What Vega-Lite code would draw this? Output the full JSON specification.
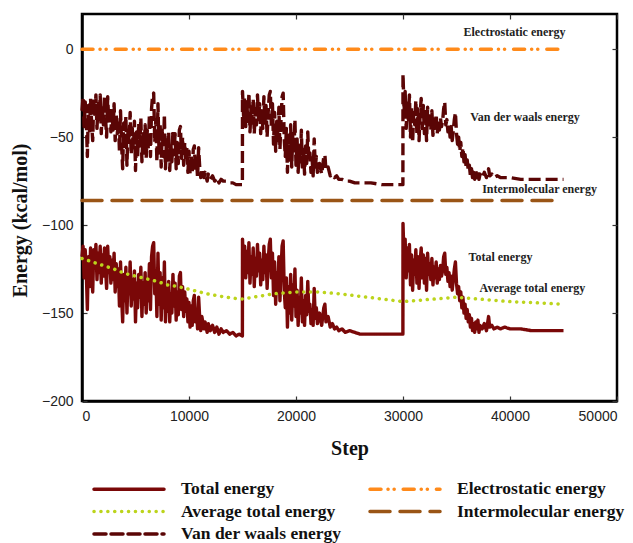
{
"$schema":"https://vega.github.io/schema/vega-lite/v6.json",
"width":535,"height":387,
"autosize":{"type":"none"},
"padding":{"left":82,"top":14,"right":16,"bottom":142},
"background":"white",
"config":{
 "view":{"stroke":"black","strokeWidth":2.5},
 "axis":{"domainColor":"black","domainWidth":2.5,"tickColor":"#333","tickSize":-5,"tickWidth":1.2,"grid":false,
  "labelFont":"Liberation Sans","labelFontSize":14,"labelColor":"#222",
  "titleFont":"Liberation Serif","titleFontWeight":"bold","titleColor":"#111"}
},
"datasets":{
"tv":[
{"s":0,"t":-118,"v":-35},{"s":100,"t":-112,"v":-27},{"s":200,"t":-130,"v":-44},{"s":300,"t":-114,"v":-30},{"s":400,"t":-126,"v":-40},{"s":500,"t":-148,"v":-61},{"s":600,"t":-118,"v":-32},{"s":700,"t":-135,"v":-48},{"s":800,"t":-113,"v":-28},{"s":900,"t":-128,"v":-42},
{"s":1000,"t":-138,"v":-52},{"s":1100,"t":-114,"v":-28},{"s":1200,"t":-124,"v":-38},{"s":1300,"t":-111,"v":-26},{"s":1400,"t":-131,"v":-45},{"s":1500,"t":-116,"v":-31},{"s":1600,"t":-127,"v":-40},{"s":1700,"t":-112,"v":-26},{"s":1800,"t":-133,"v":-48},{"s":1900,"t":-117,"v":-32},
{"s":2000,"t":-129,"v":-43},{"s":2100,"t":-113,"v":-27},{"s":2200,"t":-124,"v":-39},{"s":2300,"t":-136,"v":-50},{"s":2400,"t":-112,"v":-27},{"s":2500,"t":-127,"v":-41},{"s":2600,"t":-118,"v":-33},{"s":2700,"t":-133,"v":-47},{"s":2800,"t":-120,"v":-35},{"s":2900,"t":-131,"v":-46},
{"s":3000,"t":-116,"v":-31},{"s":3100,"t":-138,"v":-52},{"s":3200,"t":-122,"v":-37},{"s":3300,"t":-135,"v":-48},{"s":3400,"t":-125,"v":-40},{"s":3500,"t":-146,"v":-58},{"s":3600,"t":-121,"v":-35},{"s":3700,"t":-140,"v":-54},{"s":3800,"t":-155,"v":-68},{"s":3900,"t":-128,"v":-42},
{"s":4000,"t":-143,"v":-57},{"s":4100,"t":-124,"v":-38},{"s":4200,"t":-150,"v":-66},{"s":4300,"t":-130,"v":-45},{"s":4400,"t":-139,"v":-53},{"s":4500,"t":-121,"v":-36},{"s":4600,"t":-146,"v":-60},{"s":4700,"t":-131,"v":-45},{"s":4800,"t":-142,"v":-57},{"s":4900,"t":-126,"v":-41},
{"s":5000,"t":-155,"v":-69},{"s":5100,"t":-133,"v":-47},{"s":5200,"t":-147,"v":-61},{"s":5300,"t":-128,"v":-42},{"s":5400,"t":-141,"v":-55},{"s":5500,"t":-124,"v":-39},{"s":5600,"t":-152,"v":-64},{"s":5700,"t":-133,"v":-48},{"s":5800,"t":-145,"v":-59},{"s":5900,"t":-127,"v":-43},
{"s":6000,"t":-150,"v":-62},{"s":6100,"t":-131,"v":-46},{"s":6200,"t":-143,"v":-57},{"s":6300,"t":-122,"v":-37},{"s":6400,"t":-148,"v":-61},{"s":6500,"t":-118,"v":-34},{"s":6600,"t":-112,"v":-26},{"s":6700,"t":-110,"v":-25},{"s":6800,"t":-139,"v":-53},{"s":6900,"t":-126,"v":-40},
{"s":7000,"t":-152,"v":-64},{"s":7100,"t":-116,"v":-31},{"s":7200,"t":-145,"v":-59},{"s":7300,"t":-127,"v":-42},{"s":7400,"t":-154,"v":-67},{"s":7500,"t":-130,"v":-45},{"s":7600,"t":-147,"v":-61},{"s":7700,"t":-121,"v":-37},{"s":7800,"t":-155,"v":-68},{"s":7900,"t":-136,"v":-50},
{"s":8000,"t":-149,"v":-63},{"s":8100,"t":-132,"v":-47},{"s":8200,"t":-155,"v":-69},{"s":8300,"t":-139,"v":-53},{"s":8400,"t":-150,"v":-64},{"s":8500,"t":-128,"v":-46},{"s":8600,"t":-146,"v":-60},{"s":8700,"t":-133,"v":-48},{"s":8800,"t":-154,"v":-68},{"s":8900,"t":-138,"v":-53},
{"s":9000,"t":-151,"v":-65},{"s":9100,"t":-129,"v":-46},{"s":9200,"t":-127,"v":-44},{"s":9300,"t":-148,"v":-62},{"s":9400,"t":-135,"v":-50},{"s":9500,"t":-152,"v":-66},{"s":9600,"t":-138,"v":-53},{"s":9700,"t":-149,"v":-64},{"s":9800,"t":-142,"v":-56},{"s":9900,"t":-155,"v":-70},
{"s":10000,"t":-144,"v":-58},{"s":10100,"t":-158,"v":-71},{"s":10200,"t":-146,"v":-60},{"s":10300,"t":-157,"v":-70},{"s":10400,"t":-143,"v":-57},{"s":10500,"t":-140,"v":-55},{"s":10600,"t":-155,"v":-69},{"s":10700,"t":-148,"v":-62},{"s":10800,"t":-159,"v":-73},{"s":10900,"t":-141,"v":-56},
{"s":11000,"t":-153,"v":-67},{"s":11100,"t":-160,"v":-73},{"s":11200,"t":-152,"v":-68},{"s":11400,"t":-159,"v":-73},{"s":11500,"t":-155,"v":-70},{"s":11700,"t":-161,"v":-75},{"s":11800,"t":-156,"v":-71},{"s":12000,"t":-160,"v":-74},{"s":12200,"t":-157,"v":-72},{"s":12400,"t":-161,"v":-75},
{"s":12600,"t":-158,"v":-73},{"s":12800,"t":-162,"v":-76},{"s":13000,"t":-159,"v":-74},{"s":13200,"t":-161,"v":-75},{"s":13500,"t":-160,"v":-75},{"s":13800,"t":-162,"v":-76},{"s":14100,"t":-161,"v":-76},{"s":14400,"t":-163,"v":-77},{"s":14700,"t":-162,"v":-77},{"s":14990,"t":-163,"v":-77},
{"s":15000,"t":-108,"v":-24},{"s":15100,"t":-125,"v":-38},{"s":15200,"t":-112,"v":-27},{"s":15300,"t":-130,"v":-44},{"s":15400,"t":-115,"v":-30},{"s":15500,"t":-127,"v":-41},{"s":15600,"t":-110,"v":-25},{"s":15700,"t":-133,"v":-47},{"s":15800,"t":-118,"v":-33},{"s":15900,"t":-128,"v":-42},
{"s":16000,"t":-113,"v":-28},{"s":16100,"t":-135,"v":-48},{"s":16200,"t":-119,"v":-34},{"s":16300,"t":-129,"v":-43},{"s":16400,"t":-111,"v":-26},{"s":16500,"t":-126,"v":-40},{"s":16600,"t":-116,"v":-31},{"s":16700,"t":-134,"v":-48},{"s":16800,"t":-120,"v":-35},{"s":16900,"t":-131,"v":-45},
{"s":17000,"t":-112,"v":-27},{"s":17100,"t":-127,"v":-42},{"s":17200,"t":-117,"v":-32},{"s":17300,"t":-136,"v":-50},{"s":17400,"t":-121,"v":-36},{"s":17500,"t":-111,"v":-26},{"s":17600,"t":-108,"v":-24},{"s":17700,"t":-130,"v":-44},{"s":17800,"t":-116,"v":-31},{"s":17900,"t":-140,"v":-54},
{"s":18000,"t":-121,"v":-36},{"s":18100,"t":-145,"v":-58},{"s":18200,"t":-127,"v":-41},{"s":18300,"t":-138,"v":-52},{"s":18400,"t":-118,"v":-33},{"s":18500,"t":-143,"v":-57},{"s":18600,"t":-126,"v":-40},{"s":18700,"t":-112,"v":-27},{"s":18800,"t":-109,"v":-25},{"s":18900,"t":-137,"v":-51},
{"s":19000,"t":-147,"v":-61},{"s":19100,"t":-130,"v":-45},{"s":19200,"t":-158,"v":-70},{"s":19300,"t":-135,"v":-49},{"s":19400,"t":-150,"v":-64},{"s":19500,"t":-128,"v":-43},{"s":19600,"t":-154,"v":-67},{"s":19700,"t":-134,"v":-48},{"s":19800,"t":-146,"v":-60},{"s":19900,"t":-125,"v":-40},
{"s":20000,"t":-152,"v":-66},{"s":20100,"t":-137,"v":-51},{"s":20200,"t":-157,"v":-70},{"s":20300,"t":-141,"v":-55},{"s":20400,"t":-150,"v":-64},{"s":20500,"t":-130,"v":-46},{"s":20600,"t":-155,"v":-69},{"s":20700,"t":-143,"v":-57},{"s":20800,"t":-157,"v":-71},{"s":20900,"t":-140,"v":-55},
{"s":21000,"t":-151,"v":-65},{"s":21100,"t":-132,"v":-47},{"s":21200,"t":-149,"v":-63},{"s":21300,"t":-145,"v":-59},{"s":21400,"t":-156,"v":-70},{"s":21500,"t":-148,"v":-62},{"s":21600,"t":-157,"v":-72},{"s":21700,"t":-136,"v":-51},{"s":21800,"t":-153,"v":-67},{"s":21900,"t":-147,"v":-61},
{"s":22000,"t":-156,"v":-70},{"s":22200,"t":-150,"v":-65},{"s":22400,"t":-157,"v":-71},{"s":22600,"t":-147,"v":-61},{"s":22700,"t":-145,"v":-60},{"s":22800,"t":-155,"v":-69},{"s":23000,"t":-152,"v":-67},{"s":23200,"t":-158,"v":-72},{"s":23400,"t":-156,"v":-71},{"s":23600,"t":-159,"v":-73},
{"s":23800,"t":-158,"v":-72},{"s":24000,"t":-160,"v":-74},{"s":24300,"t":-159,"v":-74},{"s":24600,"t":-161,"v":-75},{"s":25000,"t":-160,"v":-75},{"s":25500,"t":-161,"v":-76},{"s":26000,"t":-162,"v":-76},{"s":27000,"t":-162,"v":-76},{"s":28000,"t":-162,"v":-77},{"s":29000,"t":-162,"v":-77},{"s":29990,"t":-162,"v":-77},
{"s":30000,"t":-99,"v":-14},{"s":30100,"t":-120,"v":-35},{"s":30200,"t":-108,"v":-24},{"s":30300,"t":-130,"v":-45},{"s":30400,"t":-113,"v":-29},{"s":30500,"t":-126,"v":-40},{"s":30600,"t":-111,"v":-26},{"s":30700,"t":-134,"v":-50},{"s":30800,"t":-117,"v":-33},{"s":30900,"t":-137,"v":-53},
{"s":31000,"t":-120,"v":-36},{"s":31100,"t":-128,"v":-43},{"s":31200,"t":-114,"v":-29},{"s":31300,"t":-133,"v":-48},{"s":31400,"t":-118,"v":-34},{"s":31500,"t":-136,"v":-52},{"s":31600,"t":-121,"v":-37},{"s":31700,"t":-113,"v":-28},{"s":31800,"t":-130,"v":-45},{"s":31900,"t":-117,"v":-32},
{"s":32000,"t":-133,"v":-48},{"s":32100,"t":-119,"v":-34},{"s":32200,"t":-137,"v":-52},{"s":32300,"t":-116,"v":-33},{"s":32400,"t":-128,"v":-43},{"s":32500,"t":-122,"v":-38},{"s":32600,"t":-131,"v":-46},{"s":32700,"t":-119,"v":-35},{"s":32800,"t":-134,"v":-49},{"s":32900,"t":-124,"v":-40},
{"s":33000,"t":-130,"v":-45},{"s":33100,"t":-121,"v":-37},{"s":33200,"t":-133,"v":-48},{"s":33300,"t":-125,"v":-41},{"s":33400,"t":-131,"v":-46},{"s":33500,"t":-123,"v":-39},{"s":33600,"t":-129,"v":-44},{"s":33700,"t":-126,"v":-41},{"s":33800,"t":-118,"v":-34},{"s":33900,"t":-116,"v":-30},
{"s":34000,"t":-128,"v":-43},{"s":34100,"t":-124,"v":-40},{"s":34200,"t":-132,"v":-47},{"s":34300,"t":-127,"v":-42},{"s":34400,"t":-135,"v":-50},{"s":34500,"t":-129,"v":-44},{"s":34600,"t":-137,"v":-52},{"s":34700,"t":-131,"v":-46},{"s":34800,"t":-125,"v":-40},{"s":34900,"t":-121,"v":-36},
{"s":35000,"t":-133,"v":-48},{"s":35100,"t":-139,"v":-54},{"s":35200,"t":-135,"v":-50},{"s":35300,"t":-143,"v":-58},{"s":35400,"t":-138,"v":-53},{"s":35500,"t":-147,"v":-61},{"s":35600,"t":-141,"v":-56},{"s":35700,"t":-150,"v":-64},{"s":35800,"t":-145,"v":-60},{"s":35900,"t":-153,"v":-67},
{"s":36000,"t":-148,"v":-63},{"s":36100,"t":-155,"v":-69},{"s":36200,"t":-151,"v":-66},{"s":36300,"t":-158,"v":-72},{"s":36400,"t":-153,"v":-68},{"s":36500,"t":-160,"v":-73},{"s":36600,"t":-156,"v":-70},{"s":36700,"t":-161,"v":-74},{"s":36800,"t":-155,"v":-69},{"s":36900,"t":-159,"v":-73},
{"s":37000,"t":-154,"v":-69},{"s":37100,"t":-161,"v":-74},{"s":37200,"t":-157,"v":-71},{"s":37400,"t":-159,"v":-73},{"s":37600,"t":-156,"v":-70},{"s":37800,"t":-160,"v":-73},{"s":38000,"t":-152,"v":-68},{"s":38100,"t":-158,"v":-72},{"s":38300,"t":-157,"v":-71},{"s":38500,"t":-159,"v":-73},
{"s":38800,"t":-158,"v":-72},{"s":39100,"t":-159,"v":-73},{"s":39500,"t":-158,"v":-73},{"s":40000,"t":-159,"v":-73},{"s":41000,"t":-159,"v":-74},{"s":42000,"t":-160,"v":-74},{"s":43000,"t":-160,"v":-74},{"s":44000,"t":-160,"v":-74},{"s":45000,"t":-160,"v":-74}
],
"other":[
{"k":"a","s":0,"e":-119},{"k":"a","s":1000,"e":-121},{"k":"a","s":2000,"e":-123},{"k":"a","s":3000,"e":-125},{"k":"a","s":4000,"e":-127.5},{"k":"a","s":5000,"e":-129},{"k":"a","s":6000,"e":-130.5},{"k":"a","s":7000,"e":-132},{"k":"a","s":8000,"e":-134},{"k":"a","s":9000,"e":-135},{"k":"a","s":10000,"e":-136.5},{"k":"a","s":11000,"e":-138},{"k":"a","s":12000,"e":-139.5},{"k":"a","s":13000,"e":-140.5},{"k":"a","s":14000,"e":-141.5},{"k":"a","s":15000,"e":-142},{"k":"a","s":16000,"e":-141},{"k":"a","s":17000,"e":-140},{"k":"a","s":18000,"e":-139},{"k":"a","s":19000,"e":-138.5},{"k":"a","s":20000,"e":-138},{"k":"a","s":22000,"e":-138},{"k":"a","s":24000,"e":-139},{"k":"a","s":26000,"e":-140.5},{"k":"a","s":28000,"e":-142},{"k":"a","s":30000,"e":-143.5},{"k":"a","s":32000,"e":-142.5},{"k":"a","s":34000,"e":-141.5},{"k":"a","s":35000,"e":-141},{"k":"a","s":36000,"e":-141.5},{"k":"a","s":38000,"e":-142.5},{"k":"a","s":40000,"e":-143.5},{"k":"a","s":42000,"e":-144},{"k":"a","s":45000,"e":-145},
{"k":"el","s":0,"e":0},{"k":"el","s":45000,"e":0},
{"k":"im","s":0,"e":-86},{"k":"im","s":44500,"e":-86}
],
"labels":[
{"label":"Electrostatic energy","s":40420,"e":9.9},
{"label":"Van der waals energy","s":41400,"e":-38.4},
{"label":"Intermolecular energy","s":42760,"e":-79.7},
{"label":"Total energy","s":39110,"e":-118},
{"label":"Average total energy","s":42100,"e":-135.9}
]
},
"resolve":{"axis":{"x":"independent","y":"independent"}},
"layer":[
{
 "data":{"name":"tv"},
 "transform":[{"fold":["t","v"],"as":["k","e"]}],
 "mark":{"type":"line","strokeWidth":3.4,"strokeJoin":"round"},
 "encoding":{
  "x":{"field":"s","type":"quantitative","scale":{"domain":[0,50000],"nice":false},
       "axis":{"orient":"bottom","values":[0,10000,20000,30000,40000,50000],"format":"d","title":"Step","titleFontSize":20,"titlePadding":15,"labelPadding":13}},
  "y":{"field":"e","type":"quantitative","scale":{"domain":[-200,20],"nice":false,"zero":false},
       "axis":{"orient":"left","values":[-200,-150,-100,-50,0],"format":"d","title":"Energy (kcal/mol)","titleFontSize":20,"titlePadding":11,"labelPadding":14,"titleY":206}},
  "color":{"field":"k","type":"nominal",
   "scale":{"domain":["t","a","v","el","im"],"range":["#7a0808","#bcd41c","#5a0505","#ff8a1a","#9a5516"]},
   "legend":{"orient":"none","legendX":3,"legendY":466,"columns":2,"title":null,"padding":0,"labelLimit":300,
     "labelExpr":"{'t':'Total energy','el':'Electrostatic energy','a':'Average total energy','im':'Intermolecular energy','v':'Van der waals energy'}[datum.label]",
     "symbolType":"M0,0H10","symbolSize":196,"symbolStrokeWidth":3.5,
     "labelFont":"Liberation Serif","labelFontWeight":"bold","labelFontSize":17.5,"labelColor":"#111",
     "labelOffset":78,"columnPadding":19,"rowPadding":4.5,
     "encode":{"symbols":{"update":{"strokeCap":{"value":"round"}}}}}},
  "strokeDash":{"field":"k","type":"nominal",
   "scale":{"domain":["t","a","v","el","im"],"range":[[1,0],[0.1,6.8],[12,5],[11,7,0.1,6,0.1,9],[20,10]]},
   "legend":{"orient":"none","legendX":3,"legendY":466,"columns":2,"title":null,"padding":0,"labelLimit":300,
     "labelExpr":"{'t':'Total energy','el':'Electrostatic energy','a':'Average total energy','im':'Intermolecular energy','v':'Van der waals energy'}[datum.label]",
     "symbolType":"M0,0H10","symbolSize":196,"symbolStrokeWidth":3.5,
     "labelFont":"Liberation Serif","labelFontWeight":"bold","labelFontSize":17.5,"labelColor":"#111",
     "labelOffset":78,"columnPadding":19,"rowPadding":4.5,
     "encode":{"symbols":{"update":{"strokeCap":{"value":"round"}}}}}}
 }
},
{
 "data":{"name":"other"},
 "mark":{"type":"line","strokeWidth":3.5,"strokeCap":"round"},
 "encoding":{
  "x":{"field":"s","type":"quantitative","axis":{"orient":"top","labels":false,"title":null,"domain":false,"values":[0,10000,20000,30000,40000,50000]}},
  "y":{"field":"e","type":"quantitative","axis":{"orient":"right","labels":false,"title":null,"domain":false,"values":[-200,-150,-100,-50,0]}},
  "color":{"field":"k","type":"nominal"},
  "strokeDash":{"field":"k","type":"nominal"}
 }
},
{
 "data":{"name":"labels"},
 "mark":{"type":"text","font":"Liberation Serif","fontWeight":"bold","fontSize":12,"color":"#222","align":"center","baseline":"middle"},
 "encoding":{
  "x":{"field":"s","type":"quantitative","axis":null},
  "y":{"field":"e","type":"quantitative","axis":null},
  "text":{"field":"label"}
 }
}
]
}
